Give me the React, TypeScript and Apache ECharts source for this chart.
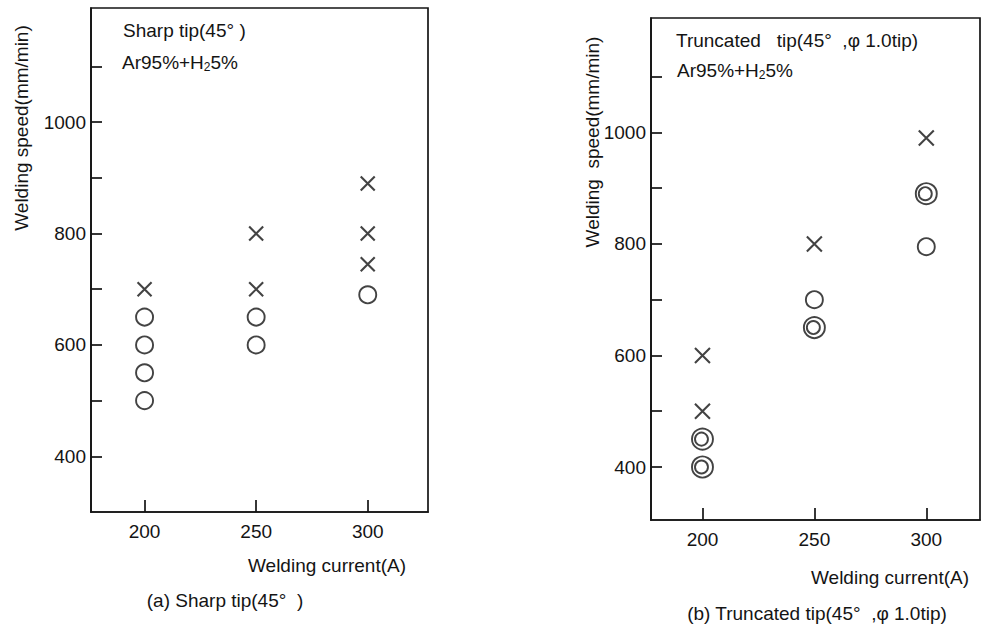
import React, { useEffect, useRef } from "react";
import * as echarts from "echarts";

// Welding current (A) tick values and welding speed (mm/min) ticks
const currentTicks = [200, 250, 300];
const speedTicks = [400, 500, 600, 700, 800, 900, 1000, 1100];
const speedLabels = [400, 600, 800, 1000];

// (a) Sharp tip(45°)
const sharpCross: [number, number][] = [
  [200, 700], [250, 800], [250, 700], [300, 890], [300, 800], [300, 745],
];
const sharpCircle: [number, number][] = [
  [200, 650], [200, 600], [200, 550], [200, 500], [250, 650], [250, 600], [300, 690],
];

// (b) Truncated tip(45°, φ1.0tip)
const truncCross: [number, number][] = [
  [200, 600], [200, 500], [250, 800], [300, 990],
];
const truncCircle: [number, number][] = [
  [250, 700], [300, 795],
];
const truncDouble: [number, number][] = [
  [200, 450], [200, 400], [250, 650], [300, 890],
];

const FONT = "'Liberation Sans', Arial, sans-serif";
const FS = 19;
const INK = "#141414";
const CROSS = "path://M0,0L10,10M10,0L0,10";

export default function App() {
  const ref = useRef<HTMLDivElement>(null);
  useEffect(() => {
    document.body.style.margin = "0";
    const chart = echarts.init(ref.current!, null, { renderer: "svg" });

    const xAxis = (gridIndex: number, min: number, max: number) => ({
      type: "value",
      gridIndex,
      min,
      max,
      axisLine: { show: true, onZero: false, lineStyle: { color: INK, width: 1.7 } },
      axisTick: {
        show: true, inside: true, length: 12, customValues: currentTicks,
        lineStyle: { color: INK, width: 1.7 },
      },
      axisLabel: {
        customValues: currentTicks, color: INK, fontFamily: FONT, fontSize: FS, margin: 10,
        formatter: (v: number) => String(v),
      },
      splitLine: { show: false },
    });
    const yAxis = (gridIndex: number, min: number, max: number) => ({
      type: "value",
      gridIndex,
      min,
      max,
      axisLine: { show: true, onZero: false, lineStyle: { color: INK, width: 1.7 } },
      axisTick: {
        show: true, inside: true, length: 11, customValues: speedTicks,
        lineStyle: { color: INK, width: 1.7 },
      },
      axisLabel: {
        customValues: speedLabels, color: INK, fontFamily: FONT, fontSize: FS, margin: 5,
        formatter: (v: number) => String(v),
      },
      splitLine: { show: false },
    });

    const crossSeries = (idx: number, data: [number, number][], size: number) => ({
      type: "scatter",
      xAxisIndex: idx,
      yAxisIndex: idx,
      data,
      symbol: CROSS,
      symbolSize: size,
      itemStyle: { color: "rgba(0,0,0,0)", borderColor: INK, borderWidth: 2.1 },
      silent: true,
    });
    const circleSeries = (idx: number, data: [number, number][], size: number, offset = [0, 0]) => ({
      type: "scatter",
      xAxisIndex: idx,
      yAxisIndex: idx,
      data,
      symbol: "circle",
      symbolSize: size,
      symbolOffset: offset,
      itemStyle: { color: "rgba(0,0,0,0)", borderColor: INK, borderWidth: 1.9 },
      silent: true,
    });

    const txt = (x: number, y: number, text: string, extra: any = {}) => ({
      type: "text",
      x,
      y,
      style: {
        text,
        fill: INK,
        font: `${FS}px ${FONT}`,
        verticalAlign: "middle",
        align: "left",
        ...extra,
      },
    });
    const gasText = (x: number, y: number) => ({
      type: "text",
      x,
      y,
      style: {
        text: "Ar95%+H{s|2}5%",
        fill: INK,
        font: `${FS}px ${FONT}`,
        verticalAlign: "middle",
        rich: { s: { fontSize: 12, fontFamily: FONT, fill: INK, padding: [9, 0, 0, 0] } },
      },
    });

    chart.setOption({
      animation: false,
      backgroundColor: "#ffffff",
      grid: [
        { left: 91, top: 8, width: 337, height: 504, show: true, borderColor: INK, borderWidth: 1.7 },
        { left: 651, top: 18, width: 329, height: 502, show: true, borderColor: INK, borderWidth: 1.7 },
      ],
      xAxis: [xAxis(0, 176, 327), xAxis(1, 177, 324)],
      yAxis: [yAxis(0, 300, 1205), yAxis(1, 305, 1205)],
      series: [
        crossSeries(0, sharpCross, 14),
        circleSeries(0, sharpCircle, 17),
        crossSeries(1, truncCross, 15),
        circleSeries(1, truncCircle, 17),
        circleSeries(1, truncDouble, 21),
        circleSeries(1, truncDouble, 13, [-1, 0]),
      ],
      graphic: [
        txt(123, 30, "Sharp tip(45° )"),
        gasText(122, 62),
        txt(676, 40, "Truncated   tip(45°  ,φ 1.0tip)"),
        gasText(677, 70),
        txt(21, 128, "Welding speed(mm/min)", { align: "center" }),
        txt(327, 565, "Welding current(A)", { align: "center" }),
        txt(225, 600, "(a) Sharp tip(45°  )", { align: "center" }),
        txt(890, 577, "Welding current(A)", { align: "center" }),
        txt(817, 613, "(b) Truncated tip(45°  ,φ 1.0tip)", { align: "center" }),
        txt(592, 142, "Welding  speed(mm/min)", { align: "center" }),
      ].map((g: any, i: number) =>
        i === 4 || i === 9 ? { ...g, rotation: Math.PI / 2 } : g
      ),
    });
    return () => chart.dispose();
  }, []);
  return (
    <div
      ref={ref}
      style={{ position: "fixed", left: 0, top: 0, width: 982, height: 631, background: "#fff" }}
    />
  );
}
